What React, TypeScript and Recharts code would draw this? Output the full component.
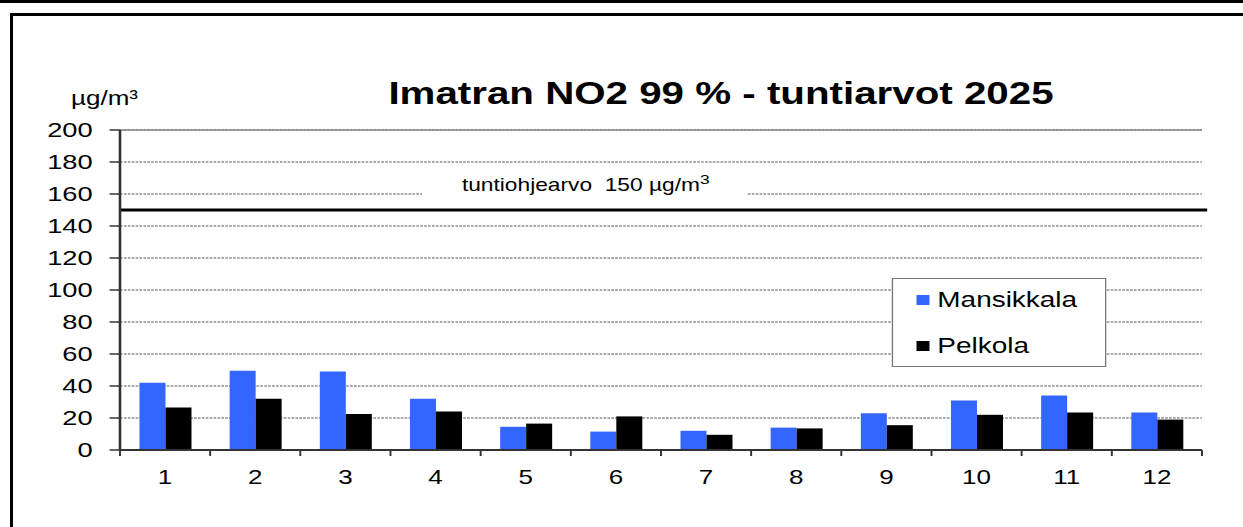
import React from 'react';
import { BarChart, Bar, XAxis, YAxis, CartesianGrid, ReferenceLine, Legend } from 'recharts';

const months = ['1', '2', '3', '4', '5', '6', '7', '8', '9', '10', '11', '12'];
const mansikkala = [42, 49.5, 49, 32, 14.5, 11.5, 12, 14, 23, 31, 34, 23.5];
const pelkola = [26.5, 32, 22.5, 24, 16.5, 21, 9.5, 13.5, 15.5, 22, 23.5, 19];
const yTicks = [0, 20, 40, 60, 80, 100, 120, 140, 160, 180, 200];
const limitValue = 150;
const limitLabel = 'tuntiohjearvo\u00a0\u00a0150\u00a0µg/m';
const limitSup = '3';
const title = 'Imatran NO2 99 % - tuntiarvot 2025';
const unitLabel = 'µg/m³';
const seriesNames = ['Mansikkala', 'Pelkola'];
const seriesColors = ['#3366ff', '#000000'];

const data = months.map((m, i) => ({ month: m, [seriesNames[0]]: mansikkala[i], [seriesNames[1]]: pelkola[i] }));

const FONT = '"Liberation Sans", Arial, Helvetica, sans-serif';
const SX = 1.3;
const CW = 956;
const CH = 527;

const XTick = (props: any) => {
  const { x, y, payload, index, visibleTicksCount } = props;
  const half = payload && typeof payload.offset === 'number' ? payload.offset : 0;
  return (
    <g>
      <line x1={x - half} x2={x - half} y1={y} y2={y + 6} stroke="#333" strokeWidth={1.5} />
      {index === visibleTicksCount - 1 ? (
        <line x1={x + half} x2={x + half} y1={y} y2={y + 6} stroke="#333" strokeWidth={1.5} />
      ) : null}
      <text x={x} y={y + 34} textAnchor="middle" fontSize={20} fill="#000" fontFamily={FONT}>
        {payload.value}
      </text>
    </g>
  );
};

const LimitLabel = (props: any) => {
  const vb = props.viewBox || { x: 0, y: 0, width: 0 };
  const cx = vb.x + vb.width * 0.4293;
  return (
    <g>
      <rect x={cx - 125} y={vb.y - 34} width={250} height={27} fill="#ffffff" />
      <line x1={vb.x + vb.width} x2={vb.x + vb.width + 4} y1={vb.y} y2={vb.y} stroke="#000" strokeWidth={3} />
      <text x={cx + 1} y={vb.y - 19} textAnchor="middle" fontSize={17.5} fill="#000" fontFamily={FONT}>
        {limitLabel}
        <tspan dy={-7} fontSize={13.5}>{limitSup}</tspan>
      </text>
    </g>
  );
};

const renderLegend = (props: any) => {
  const payload = props.payload || [];
  return (
    <div
      style={{
        width: 165,
        height: 89,
        boxSizing: 'border-box',
        border: '1.5px solid #777',
        background: '#fff',
        position: 'relative',
        fontFamily: FONT,
      }}
    >
      {payload.map((p: any, i: number) => (
        <div
          key={p.value}
          style={{ position: 'absolute', left: 18, top: 9 + i * 46, height: 24, display: 'flex', alignItems: 'center' }}
        >
          <span style={{ width: 10, height: 10, background: p.color, marginRight: 6, display: 'inline-block' }} />
          <span style={{ fontSize: 21.5, lineHeight: '24px', color: '#000', whiteSpace: 'nowrap' }}>{p.value}</span>
        </div>
      ))}
    </div>
  );
};

export default function App() {
  return (
    <div style={{ position: 'fixed', left: 0, top: 0, width: 1243, height: 527, background: '#fff', overflow: 'hidden' }}>
      <div style={{ position: 'absolute', left: 0, top: 0, width: 1243, height: 2.5, background: '#000' }} />
      <div
        style={{
          position: 'absolute',
          left: 10,
          top: 13,
          width: 1260,
          height: 560,
          borderTop: '3px solid #000',
          borderLeft: '3px solid #000',
        }}
      />
      <div
        style={{
          position: 'absolute',
          left: 0,
          top: 0,
          width: CW,
          height: CH,
          transform: `scaleX(${SX})`,
          transformOrigin: '0 0',
        }}
      >
        <BarChart
          width={CW}
          height={CH}
          data={data}
          margin={{ top: 130, right: 31.4, bottom: 37, left: 2.3 }}
          barGap={0}
          barSize={20}
        >
          <CartesianGrid vertical={false} stroke="#555" strokeDasharray="2 1" />
          <XAxis
            dataKey="month"
            height={40}
            tickSize={0}
            tickMargin={0}
            tickLine={false}
            axisLine={{ stroke: '#333', strokeWidth: 2 }}
            tick={<XTick />}
            interval={0}
          />
          <YAxis
            domain={[0, 200]}
            ticks={yTicks}
            interval={0}
            width={90}
            tickSize={8}
            tickMargin={13}
            axisLine={{ stroke: '#333', strokeWidth: 2 }}
            tickLine={{ stroke: '#333', strokeWidth: 1.5 }}
            tick={{ fontSize: 21, fill: '#000', fontFamily: FONT }}
          />
          <YAxis
            yAxisId="frame"
            orientation="right"
            width={0}
            domain={[0, 200]}
            tick={false}
            tickLine={false}
            axisLine={{ stroke: '#888', strokeWidth: 1.5 }}
          />
          <ReferenceLine y={200} stroke="#888" strokeWidth={1.5} />
          <ReferenceLine y={limitValue} stroke="#000" strokeWidth={3} label={<LimitLabel />} />
          <Bar dataKey={seriesNames[0]} fill={seriesColors[0]} isAnimationActive={false} />
          <Bar dataKey={seriesNames[1]} fill={seriesColors[1]} isAnimationActive={false} />
          <Legend
            layout="vertical"
            align="center"
            verticalAlign="middle"
            content={renderLegend}
            wrapperStyle={{ position: 'absolute', left: 686, top: 278, width: 165, height: 89 }}
          />
        </BarChart>
        <div
          style={{
            position: 'absolute',
            left: 254.6,
            width: 600,
            top: 77.5,
            textAlign: 'center',
            fontFamily: FONT,
            fontWeight: 'bold',
            fontSize: 31,
            lineHeight: '31px',
            whiteSpace: 'nowrap',
            color: '#000',
          }}
        >
          {title}
        </div>
        <div
          style={{
            position: 'absolute',
            left: 54.6,
            top: 88,
            fontFamily: FONT,
            fontSize: 20,
            lineHeight: '20px',
            whiteSpace: 'nowrap',
            color: '#000',
          }}
        >
          {unitLabel}
        </div>
      </div>
    </div>
  );
}
